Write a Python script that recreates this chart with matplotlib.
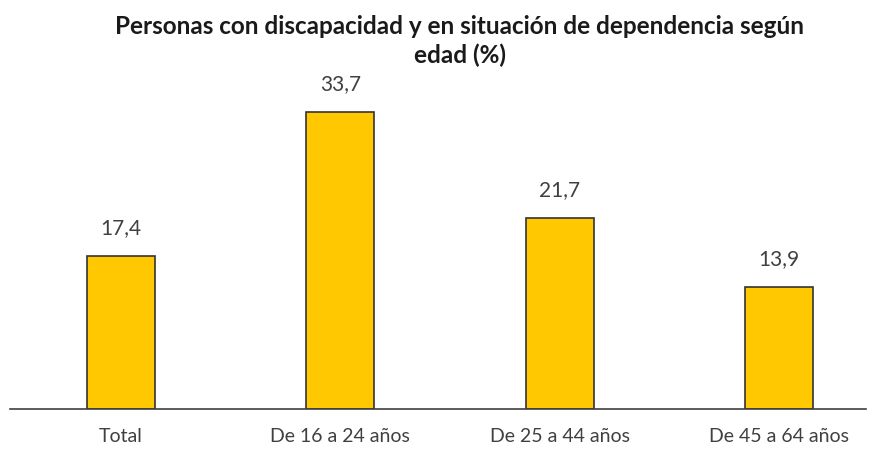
import matplotlib
matplotlib.use("Agg")
from matplotlib import pyplot as plt

categorias = ["Total", "De 16 a 24 años", "De 25 a 44 años", "De 45 a 64 años"]
valores = [17.4, 33.7, 21.7, 13.9]
etiquetas = ["17,4", "33,7", "21,7", "13,9"]
titulo = "Personas con discapacidad y en situación de dependencia según\nedad (%)"

plt.rcParams["font.family"] = ["Lato", "DejaVu Sans"]

fig = plt.figure(figsize=(8.76, 4.5), dpi=100)
ax = fig.add_axes([0.0114, 0.0911, 0.9772, 0.742])

x = range(len(categorias))
ax.bar(x, valores, width=0.31, color="#FFC800", edgecolor="#333333", linewidth=1.2, zorder=2)
for xi, v, lab in zip(x, valores, etiquetas):
    ax.text(xi, v + 2.0, lab, ha="center", va="bottom", fontsize=15, color="#404040")

ax.set_xlim(-0.507, 3.397)
ax.set_ylim(0, 37.9)
ax.set_yticks([])
ax.set_xticks(list(x))
ax.set_xticklabels(categorias, fontsize=14, color="#404040")
ax.tick_params(axis="x", length=0, pad=14)
for s in ["top", "right", "left"]:
    ax.spines[s].set_visible(False)
ax.spines["bottom"].set_color("#404040")
ax.spines["bottom"].set_linewidth(1.2)

fig.text(0.525, 0.967, titulo, ha="center", va="top", fontsize=17.5, fontweight="bold",
         color="#1a1a1a", linespacing=1.3)

fig.savefig("out.png", dpi=100)
